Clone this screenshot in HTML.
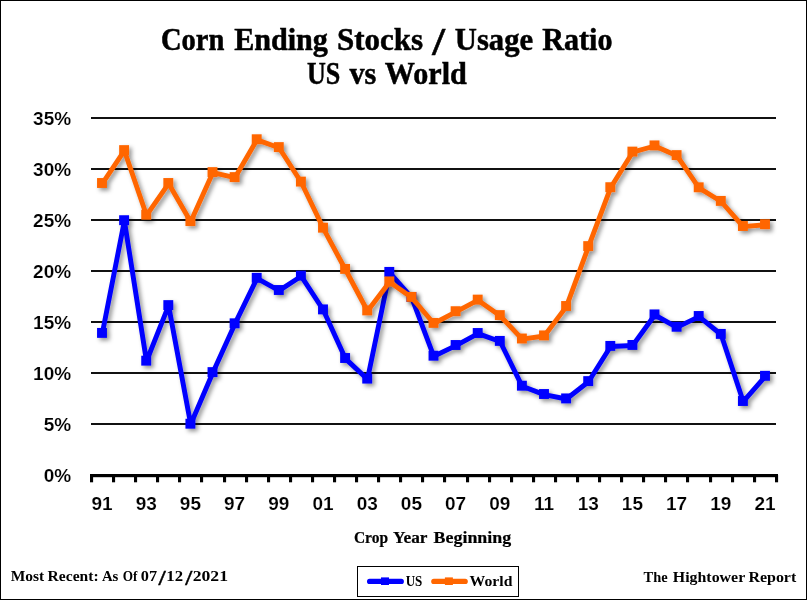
<!DOCTYPE html>
<html lang="en"><head><meta charset="utf-8"><title>Corn Ending Stocks / Usage Ratio - US vs World</title>
<style>html,body{margin:0;padding:0;background:#fff}body{width:807px;height:600px;overflow:hidden}svg{display:block}.t{font-family:"Liberation Serif",serif;font-weight:bold;fill:#000}.s{font-family:"Liberation Sans",sans-serif;font-weight:bold;fill:#000;stroke:#fff;stroke-width:0.15px}</style></head><body>
<svg width="807" height="600" viewBox="0 0 807 600">
<defs><filter id="sh" x="-5%" y="-5%" width="110%" height="115%"><feDropShadow dx="2.6" dy="2.6" stdDeviation="1.9" flood-color="#000" flood-opacity="0.42"/></filter></defs>
<rect x="0" y="0" width="807" height="600" fill="#fff"/>
<rect x="0.5" y="0.5" width="806" height="599" fill="none" stroke="#000" stroke-width="1"/>
<text class="t" font-size="30.8" x="161.0" y="50" textLength="63.4" lengthAdjust="spacingAndGlyphs" stroke="#000" stroke-width="0.5">Corn</text>
<text class="t" font-size="30.8" x="234.2" y="50" textLength="93.7" lengthAdjust="spacingAndGlyphs" stroke="#000" stroke-width="0.5">Ending</text>
<text class="t" font-size="30.8" x="336.9" y="50" textLength="86.2" lengthAdjust="spacingAndGlyphs" stroke="#000" stroke-width="0.5">Stocks</text>
<text class="t" font-size="30.8" x="454.75" y="50" textLength="78.35" lengthAdjust="spacingAndGlyphs" stroke="#000" stroke-width="0.5">Usage</text>
<text class="t" font-size="30.8" x="542.25" y="50" textLength="70.25" lengthAdjust="spacingAndGlyphs" stroke="#000" stroke-width="0.5">Ratio</text>
<text class="t" font-size="40.5" x="432.25" y="55.3" textLength="12.75" lengthAdjust="spacingAndGlyphs" stroke="#000" stroke-width="0.5">/</text>
<text class="t" font-size="30.8" x="306.9" y="84.4" textLength="33.35" lengthAdjust="spacingAndGlyphs" stroke="#000" stroke-width="0.5">US</text>
<text class="t" font-size="30.8" x="349.4" y="84.4" textLength="26.85" lengthAdjust="spacingAndGlyphs" stroke="#000" stroke-width="0.5">vs</text>
<text class="t" font-size="30.8" x="384.8" y="84.4" textLength="82.1" lengthAdjust="spacingAndGlyphs" stroke="#000" stroke-width="0.5">World</text>
<line x1="91" y1="424.00" x2="776" y2="424.00" stroke="#111" stroke-width="2"/>
<line x1="91" y1="373.00" x2="776" y2="373.00" stroke="#111" stroke-width="2"/>
<line x1="91" y1="322.00" x2="776" y2="322.00" stroke="#111" stroke-width="2"/>
<line x1="91" y1="271.00" x2="776" y2="271.00" stroke="#111" stroke-width="2"/>
<line x1="91" y1="220.00" x2="776" y2="220.00" stroke="#111" stroke-width="2"/>
<line x1="91" y1="169.00" x2="776" y2="169.00" stroke="#111" stroke-width="2"/>
<line x1="91" y1="118.00" x2="776" y2="118.00" stroke="#111" stroke-width="2"/>
<text class="s" font-size="19.0" x="71.1" y="481.50" text-anchor="end">0%</text>
<text class="s" font-size="19.0" x="71.1" y="430.50" text-anchor="end">5%</text>
<text class="s" font-size="19.0" x="71.1" y="379.50" text-anchor="end">10%</text>
<text class="s" font-size="19.0" x="71.1" y="328.50" text-anchor="end">15%</text>
<text class="s" font-size="19.0" x="71.1" y="277.50" text-anchor="end">20%</text>
<text class="s" font-size="19.0" x="71.1" y="226.50" text-anchor="end">25%</text>
<text class="s" font-size="19.0" x="71.1" y="175.50" text-anchor="end">30%</text>
<text class="s" font-size="19.0" x="71.1" y="124.50" text-anchor="end">35%</text>
<rect x="90" y="474" width="688" height="3.2" fill="#000"/>
<rect x="90" y="475" width="3.1" height="7.3" fill="#000"/>
<rect x="112" y="475" width="3.1" height="7.3" fill="#000"/>
<rect x="134" y="475" width="3.1" height="7.3" fill="#000"/>
<rect x="156" y="475" width="3.1" height="7.3" fill="#000"/>
<rect x="178" y="475" width="3.1" height="7.3" fill="#000"/>
<rect x="200" y="475" width="3.1" height="7.3" fill="#000"/>
<rect x="223" y="475" width="3.1" height="7.3" fill="#000"/>
<rect x="245" y="475" width="3.1" height="7.3" fill="#000"/>
<rect x="267" y="475" width="3.1" height="7.3" fill="#000"/>
<rect x="289" y="475" width="3.1" height="7.3" fill="#000"/>
<rect x="311" y="475" width="3.1" height="7.3" fill="#000"/>
<rect x="333" y="475" width="3.1" height="7.3" fill="#000"/>
<rect x="355" y="475" width="3.1" height="7.3" fill="#000"/>
<rect x="377" y="475" width="3.1" height="7.3" fill="#000"/>
<rect x="399" y="475" width="3.1" height="7.3" fill="#000"/>
<rect x="421" y="475" width="3.1" height="7.3" fill="#000"/>
<rect x="443" y="475" width="3.1" height="7.3" fill="#000"/>
<rect x="466" y="475" width="3.1" height="7.3" fill="#000"/>
<rect x="488" y="475" width="3.1" height="7.3" fill="#000"/>
<rect x="510" y="475" width="3.1" height="7.3" fill="#000"/>
<rect x="532" y="475" width="3.1" height="7.3" fill="#000"/>
<rect x="554" y="475" width="3.1" height="7.3" fill="#000"/>
<rect x="576" y="475" width="3.1" height="7.3" fill="#000"/>
<rect x="598" y="475" width="3.1" height="7.3" fill="#000"/>
<rect x="620" y="475" width="3.1" height="7.3" fill="#000"/>
<rect x="642" y="475" width="3.1" height="7.3" fill="#000"/>
<rect x="664" y="475" width="3.1" height="7.3" fill="#000"/>
<rect x="686" y="475" width="3.1" height="7.3" fill="#000"/>
<rect x="709" y="475" width="3.1" height="7.3" fill="#000"/>
<rect x="731" y="475" width="3.1" height="7.3" fill="#000"/>
<rect x="753" y="475" width="3.1" height="7.3" fill="#000"/>
<rect x="775" y="475" width="3.1" height="7.3" fill="#000"/>
<text class="s" font-size="19.0" x="102.00" y="509.9" text-anchor="middle">91</text>
<text class="s" font-size="19.0" x="146.20" y="509.9" text-anchor="middle">93</text>
<text class="s" font-size="19.0" x="190.40" y="509.9" text-anchor="middle">95</text>
<text class="s" font-size="19.0" x="234.60" y="509.9" text-anchor="middle">97</text>
<text class="s" font-size="19.0" x="278.80" y="509.9" text-anchor="middle">99</text>
<text class="s" font-size="19.0" x="323.00" y="509.9" text-anchor="middle">01</text>
<text class="s" font-size="19.0" x="367.20" y="509.9" text-anchor="middle">03</text>
<text class="s" font-size="19.0" x="411.40" y="509.9" text-anchor="middle">05</text>
<text class="s" font-size="19.0" x="455.60" y="509.9" text-anchor="middle">07</text>
<text class="s" font-size="19.0" x="499.80" y="509.9" text-anchor="middle">09</text>
<text class="s" font-size="19.0" x="544.00" y="509.9" text-anchor="middle">11</text>
<text class="s" font-size="19.0" x="588.20" y="509.9" text-anchor="middle">13</text>
<text class="s" font-size="19.0" x="632.40" y="509.9" text-anchor="middle">15</text>
<text class="s" font-size="19.0" x="676.60" y="509.9" text-anchor="middle">17</text>
<text class="s" font-size="19.0" x="720.80" y="509.9" text-anchor="middle">19</text>
<text class="s" font-size="19.0" x="765.00" y="509.9" text-anchor="middle">21</text>
<g filter="url(#sh)"><polyline points="102.00,332.90 124.10,220.20 146.20,360.65 168.30,305.10 190.40,423.70 212.50,372.10 234.60,323.30 256.70,277.80 278.80,290.00 300.90,275.60 323.00,309.40 345.10,358.00 367.20,378.60 389.30,271.90 411.40,297.00 433.50,355.70 455.60,345.00 477.70,333.00 499.80,340.90 521.90,385.70 544.00,394.00 566.10,398.40 588.20,381.10 610.30,345.90 632.40,344.95 654.50,314.40 676.60,326.75 698.70,316.00 720.80,333.90 742.90,401.00 765.00,375.80" fill="none" stroke="#0000ff" stroke-width="4.9" stroke-linejoin="round" transform="translate(0.3,0.6)" stroke-linecap="round"/>
<rect x="97.05" y="327.95" width="9.9" height="9.9" fill="#0000ff"/>
<rect x="119.15" y="215.25" width="9.9" height="9.9" fill="#0000ff"/>
<rect x="141.25" y="355.70" width="9.9" height="9.9" fill="#0000ff"/>
<rect x="163.35" y="300.15" width="9.9" height="9.9" fill="#0000ff"/>
<rect x="185.45" y="418.75" width="9.9" height="9.9" fill="#0000ff"/>
<rect x="207.55" y="367.15" width="9.9" height="9.9" fill="#0000ff"/>
<rect x="229.65" y="318.35" width="9.9" height="9.9" fill="#0000ff"/>
<rect x="251.75" y="272.85" width="9.9" height="9.9" fill="#0000ff"/>
<rect x="273.85" y="285.05" width="9.9" height="9.9" fill="#0000ff"/>
<rect x="295.95" y="270.65" width="9.9" height="9.9" fill="#0000ff"/>
<rect x="318.05" y="304.45" width="9.9" height="9.9" fill="#0000ff"/>
<rect x="340.15" y="353.05" width="9.9" height="9.9" fill="#0000ff"/>
<rect x="362.25" y="373.65" width="9.9" height="9.9" fill="#0000ff"/>
<rect x="384.35" y="266.95" width="9.9" height="9.9" fill="#0000ff"/>
<rect x="406.45" y="292.05" width="9.9" height="9.9" fill="#0000ff"/>
<rect x="428.55" y="350.75" width="9.9" height="9.9" fill="#0000ff"/>
<rect x="450.65" y="340.05" width="9.9" height="9.9" fill="#0000ff"/>
<rect x="472.75" y="328.05" width="9.9" height="9.9" fill="#0000ff"/>
<rect x="494.85" y="335.95" width="9.9" height="9.9" fill="#0000ff"/>
<rect x="516.95" y="380.75" width="9.9" height="9.9" fill="#0000ff"/>
<rect x="539.05" y="389.05" width="9.9" height="9.9" fill="#0000ff"/>
<rect x="561.15" y="393.45" width="9.9" height="9.9" fill="#0000ff"/>
<rect x="583.25" y="376.15" width="9.9" height="9.9" fill="#0000ff"/>
<rect x="605.35" y="340.95" width="9.9" height="9.9" fill="#0000ff"/>
<rect x="627.45" y="340.00" width="9.9" height="9.9" fill="#0000ff"/>
<rect x="649.55" y="309.45" width="9.9" height="9.9" fill="#0000ff"/>
<rect x="671.65" y="321.80" width="9.9" height="9.9" fill="#0000ff"/>
<rect x="693.75" y="311.05" width="9.9" height="9.9" fill="#0000ff"/>
<rect x="715.85" y="328.95" width="9.9" height="9.9" fill="#0000ff"/>
<rect x="737.95" y="396.05" width="9.9" height="9.9" fill="#0000ff"/>
<rect x="760.05" y="370.85" width="9.9" height="9.9" fill="#0000ff"/>
</g>
<g filter="url(#sh)"><polyline points="102.00,183.00 124.10,150.10 146.20,214.70 168.30,183.00 190.40,221.10 212.50,172.10 234.60,177.10 256.70,139.25 278.80,147.10 300.90,181.60 323.00,227.70 345.10,268.90 367.20,310.40 389.30,281.40 411.40,296.90 433.50,322.90 455.60,311.20 477.70,299.60 499.80,315.10 521.90,338.50 544.00,335.40 566.10,306.00 588.20,246.10 610.30,187.20 632.40,151.60 654.50,145.40 676.60,155.10 698.70,187.30 720.80,200.90 742.90,226.00 765.00,224.20" fill="none" stroke="#ff6600" stroke-width="4.9" stroke-linejoin="round" transform="translate(0.3,0.6)" stroke-linecap="round"/>
<rect x="97.05" y="178.05" width="9.9" height="9.9" fill="#ff6600"/>
<rect x="119.15" y="145.15" width="9.9" height="9.9" fill="#ff6600"/>
<rect x="141.25" y="209.75" width="9.9" height="9.9" fill="#ff6600"/>
<rect x="163.35" y="178.05" width="9.9" height="9.9" fill="#ff6600"/>
<rect x="185.45" y="216.15" width="9.9" height="9.9" fill="#ff6600"/>
<rect x="207.55" y="167.15" width="9.9" height="9.9" fill="#ff6600"/>
<rect x="229.65" y="172.15" width="9.9" height="9.9" fill="#ff6600"/>
<rect x="251.75" y="134.30" width="9.9" height="9.9" fill="#ff6600"/>
<rect x="273.85" y="142.15" width="9.9" height="9.9" fill="#ff6600"/>
<rect x="295.95" y="176.65" width="9.9" height="9.9" fill="#ff6600"/>
<rect x="318.05" y="222.75" width="9.9" height="9.9" fill="#ff6600"/>
<rect x="340.15" y="263.95" width="9.9" height="9.9" fill="#ff6600"/>
<rect x="362.25" y="305.45" width="9.9" height="9.9" fill="#ff6600"/>
<rect x="384.35" y="276.45" width="9.9" height="9.9" fill="#ff6600"/>
<rect x="406.45" y="291.95" width="9.9" height="9.9" fill="#ff6600"/>
<rect x="428.55" y="317.95" width="9.9" height="9.9" fill="#ff6600"/>
<rect x="450.65" y="306.25" width="9.9" height="9.9" fill="#ff6600"/>
<rect x="472.75" y="294.65" width="9.9" height="9.9" fill="#ff6600"/>
<rect x="494.85" y="310.15" width="9.9" height="9.9" fill="#ff6600"/>
<rect x="516.95" y="333.55" width="9.9" height="9.9" fill="#ff6600"/>
<rect x="539.05" y="330.45" width="9.9" height="9.9" fill="#ff6600"/>
<rect x="561.15" y="301.05" width="9.9" height="9.9" fill="#ff6600"/>
<rect x="583.25" y="241.15" width="9.9" height="9.9" fill="#ff6600"/>
<rect x="605.35" y="182.25" width="9.9" height="9.9" fill="#ff6600"/>
<rect x="627.45" y="146.65" width="9.9" height="9.9" fill="#ff6600"/>
<rect x="649.55" y="140.45" width="9.9" height="9.9" fill="#ff6600"/>
<rect x="671.65" y="150.15" width="9.9" height="9.9" fill="#ff6600"/>
<rect x="693.75" y="182.35" width="9.9" height="9.9" fill="#ff6600"/>
<rect x="715.85" y="195.95" width="9.9" height="9.9" fill="#ff6600"/>
<rect x="737.95" y="221.05" width="9.9" height="9.9" fill="#ff6600"/>
<rect x="760.05" y="219.25" width="9.9" height="9.9" fill="#ff6600"/>
</g>
<text class="t" font-size="16.3" x="353.9" y="543" textLength="34.1" lengthAdjust="spacingAndGlyphs" stroke="#000" stroke-width="0.2">Crop</text>
<text class="t" font-size="16.3" x="393" y="543" textLength="34.5" lengthAdjust="spacingAndGlyphs" stroke="#000" stroke-width="0.2">Year</text>
<text class="t" font-size="16.3" x="433.6" y="543" textLength="77.6" lengthAdjust="spacingAndGlyphs" stroke="#000" stroke-width="0.2">Beginning</text>
<text class="t" font-size="13.6" x="10.7" y="580.5" textLength="33.5" lengthAdjust="spacingAndGlyphs">Most</text>
<text class="t" font-size="13.6" x="47.6" y="580.5" textLength="51.0" lengthAdjust="spacingAndGlyphs">Recent:</text>
<text class="t" font-size="13.6" x="101.9" y="580.5" textLength="16.5" lengthAdjust="spacingAndGlyphs">As</text>
<text class="t" font-size="13.6" x="122.8" y="580.5" textLength="14.7" lengthAdjust="spacingAndGlyphs">Of</text>
<text class="t" font-size="13.6" x="140.8" y="580.5" textLength="16.3" lengthAdjust="spacingAndGlyphs">07</text>
<text class="t" font-size="13.6" x="166.3" y="580.5" textLength="16.7" lengthAdjust="spacingAndGlyphs">12</text>
<text class="t" font-size="13.6" x="192.7" y="580.5" textLength="35.3" lengthAdjust="spacingAndGlyphs">2021</text>
<text class="t" font-size="19.9" x="158.5" y="584.6" textLength="7.2" lengthAdjust="spacingAndGlyphs" stroke="#000" stroke-width="0.3">/</text>
<text class="t" font-size="19.9" x="185.2" y="584.6" textLength="7.0" lengthAdjust="spacingAndGlyphs" stroke="#000" stroke-width="0.3">/</text>
<text class="t" font-size="13.6" x="643.6" y="581.8" textLength="24.1" lengthAdjust="spacingAndGlyphs">The</text>
<text class="t" font-size="13.6" x="672.8" y="581.8" textLength="72.4" lengthAdjust="spacingAndGlyphs">Hightower</text>
<text class="t" font-size="13.6" x="748.4" y="581.8" textLength="47.9" lengthAdjust="spacingAndGlyphs">Report</text>
<rect x="357.5" y="566.5" width="161" height="30" fill="#fff" stroke="#000" stroke-width="1"/>
<line x1="369.6" y1="581.4" x2="401.3" y2="581.4" stroke="#0000ff" stroke-width="5.2" stroke-linecap="round"/>
<rect x="381" y="577.4" width="8" height="7.6" fill="#0000ff"/>
<line x1="433.8" y1="581.4" x2="465.2" y2="581.4" stroke="#ff6600" stroke-width="5.2" stroke-linecap="round"/>
<rect x="444.9" y="577.4" width="8" height="7.6" fill="#ff6600"/>
<text class="t" font-size="13.6" x="405.7" y="585.5" textLength="16.7" lengthAdjust="spacingAndGlyphs">US</text>
<text class="t" font-size="13.6" x="469.6" y="585.5" textLength="42.8" lengthAdjust="spacingAndGlyphs">World</text>
</svg></body></html>
